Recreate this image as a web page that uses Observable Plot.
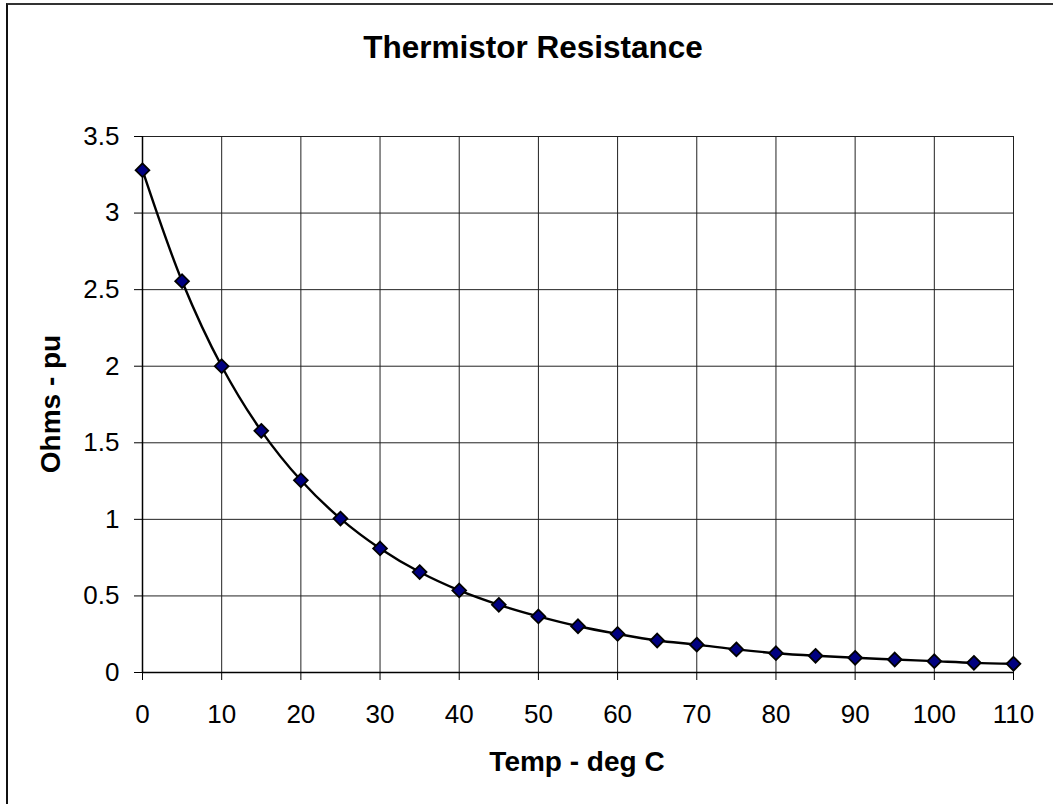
<!DOCTYPE html>
<html>
<head>
<meta charset="utf-8">
<script src="https://cdn.jsdelivr.net/npm/d3@7"></script>
<script src="https://cdn.jsdelivr.net/npm/@observablehq/plot@0.6"></script>
<style>
  html, body { margin: 0; padding: 0; background: #fff; width: 1053px; height: 804px; overflow: hidden; }
  #frame { position: absolute; left: 6px; top: 3px; width: 2000px; height: 2000px;
           border-left: 2px solid #111; border-top: 2px solid #333; box-sizing: border-box; }
  #title { position: absolute; left: 0; top: 32px; width: 1066px; text-align: center;
           font-family: "Liberation Sans", Arial, sans-serif; font-weight: bold; font-size: 31.5px; line-height: 1; }
  #chart { position: absolute; left: 0; top: 0; }
</style>
</head>
<body>
<div id="frame"></div>
<div id="title">Thermistor Resistance</div>
<div id="chart"></div>
<script>
const temps = [0, 5, 10, 15, 20, 25, 30, 35, 40, 45, 50, 55, 60, 65, 70, 75, 80, 85, 90, 95, 100, 105, 110];
const ohms = [3.28, 2.555, 2.0, 1.578, 1.255, 1.005, 0.81, 0.656, 0.536, 0.442, 0.366, 0.302, 0.252, 0.209, 0.182, 0.151, 0.126, 0.109, 0.096, 0.085, 0.074, 0.063, 0.057];
const xTicks = [0, 10, 20, 30, 40, 50, 60, 70, 80, 90, 100, 110];
const yTicks = [0, 0.5, 1, 1.5, 2, 2.5, 3, 3.5];
const xLabel = "Temp - deg C";
const yLabel = "Ohms - pu";

const data = temps.map((t, i) => ({temp: t, ohm: ohms[i]}));

const svg = Plot.plot({
  width: 1053,
  height: 804,
  marginLeft: 142,
  marginRight: 40,
  marginTop: 136,
  marginBottom: 132,
  style: {fontFamily: "'Liberation Sans', Arial, sans-serif", fontSize: "26px", color: "black", background: "transparent"},
  x: {domain: [0, 110]},
  y: {domain: [0, 3.5]},
  marks: [
    Plot.gridX(xTicks, {stroke: "#222", strokeOpacity: 1, strokeWidth: 1}),
    Plot.gridY(yTicks, {stroke: "#222", strokeOpacity: 1, strokeWidth: 1}),
    Plot.ruleX([0], {stroke: "#000", strokeWidth: 1.5}),
    Plot.ruleY([0], {stroke: "#000", strokeWidth: 1.5}),
    Plot.axisX(xTicks, {tickSize: 8, tickPadding: 24, label: null, fontSize: 26, tickFormat: d => String(d)}),
    Plot.axisY(yTicks, {tickSize: 8, tickPadding: 15, label: null, fontSize: 26, tickFormat: d => String(d)}),
    Plot.line(data, {x: "temp", y: "ohm", curve: "catmull-rom", stroke: "#000", strokeWidth: 2.4}),
    Plot.dot(data, {x: "temp", y: "ohm", symbol: "diamond2", r: 6.2, fill: "#000080", stroke: "#000", strokeWidth: 1.8})
  ]
});

const s = d3.select(svg);
s.append("text")
  .attr("x", 577).attr("y", 771)
  .attr("text-anchor", "middle")
  .attr("font-weight", "bold").attr("font-size", 28)
  .text(xLabel);
s.append("text")
  .attr("transform", "translate(60,404) rotate(-90)")
  .attr("text-anchor", "middle")
  .attr("font-weight", "bold").attr("font-size", 28)
  .text(yLabel);

document.getElementById("chart").appendChild(svg);
</script>
</body>
</html>
